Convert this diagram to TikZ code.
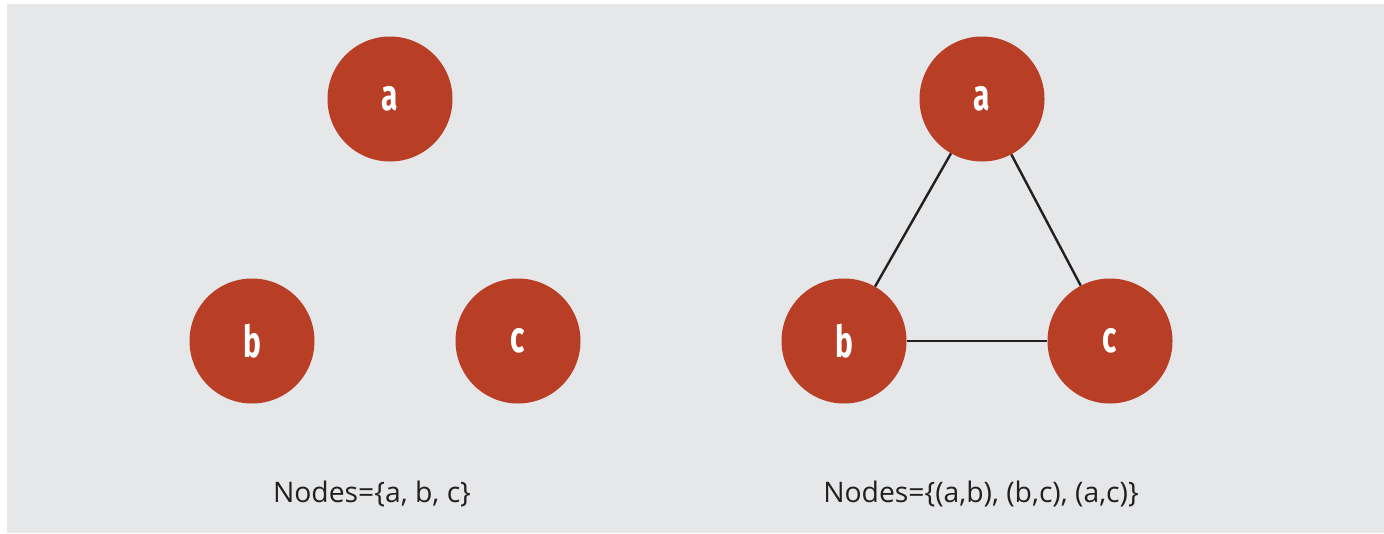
\documentclass[tikz,border=0pt]{standalone}
\usepackage{fontspec}
\setmainfont{Open Sans}
\newfontfamily\letterfont{Fira Sans}
\definecolor{bggray}{RGB}{230,231,232}
\definecolor{nodered}{RGB}{184,62,38}
\definecolor{edgeblack}{RGB}{35,31,32}
\begin{document}
\begin{tikzpicture}[x=1pt,y=-1pt,
  vert/.style={circle,fill=nodered,draw=none,minimum size=125pt,inner sep=0pt,
    text=white,font=\letterfont\fontsize{44}{44}\selectfont\bfseries},
  edge/.style={draw=edgeblack,line width=2.4pt},
  caption/.style={anchor=base,text=edgeblack,font=\fontsize{28.3}{30}\selectfont}]
\useasboundingbox (0,0) rectangle (1384,533);
\fill[bggray] (7,4) rectangle (1384,533);
% left graph
\node[vert] (la) at (390,99) {\scalebox{0.68}[1]{a}};
\node[vert] (lb) at (252,341) {\scalebox{0.68}[1]{b}};
\node[vert] (lc) at (518,341) {\scalebox{0.68}[1]{c}};
% right graph
\node[vert] (ra) at (982,99) {\scalebox{0.68}[1]{a}};
\node[vert] (rb) at (844,341) {\scalebox{0.68}[1]{b}};
\node[vert] (rc) at (1110,341) {\scalebox{0.68}[1]{c}};
\draw[edge] (ra) -- (rb);
\draw[edge] (rb) -- (rc);
\draw[edge] (ra) -- (rc);
% captions
\node[caption] (lcap) at (372,502) {Nodes=\{a, b, c\}};
\node[caption] (rcap) at (981,502) {Nodes=\{(a,b), (b,c), (a,c)\}};
\end{tikzpicture}
\end{document}
